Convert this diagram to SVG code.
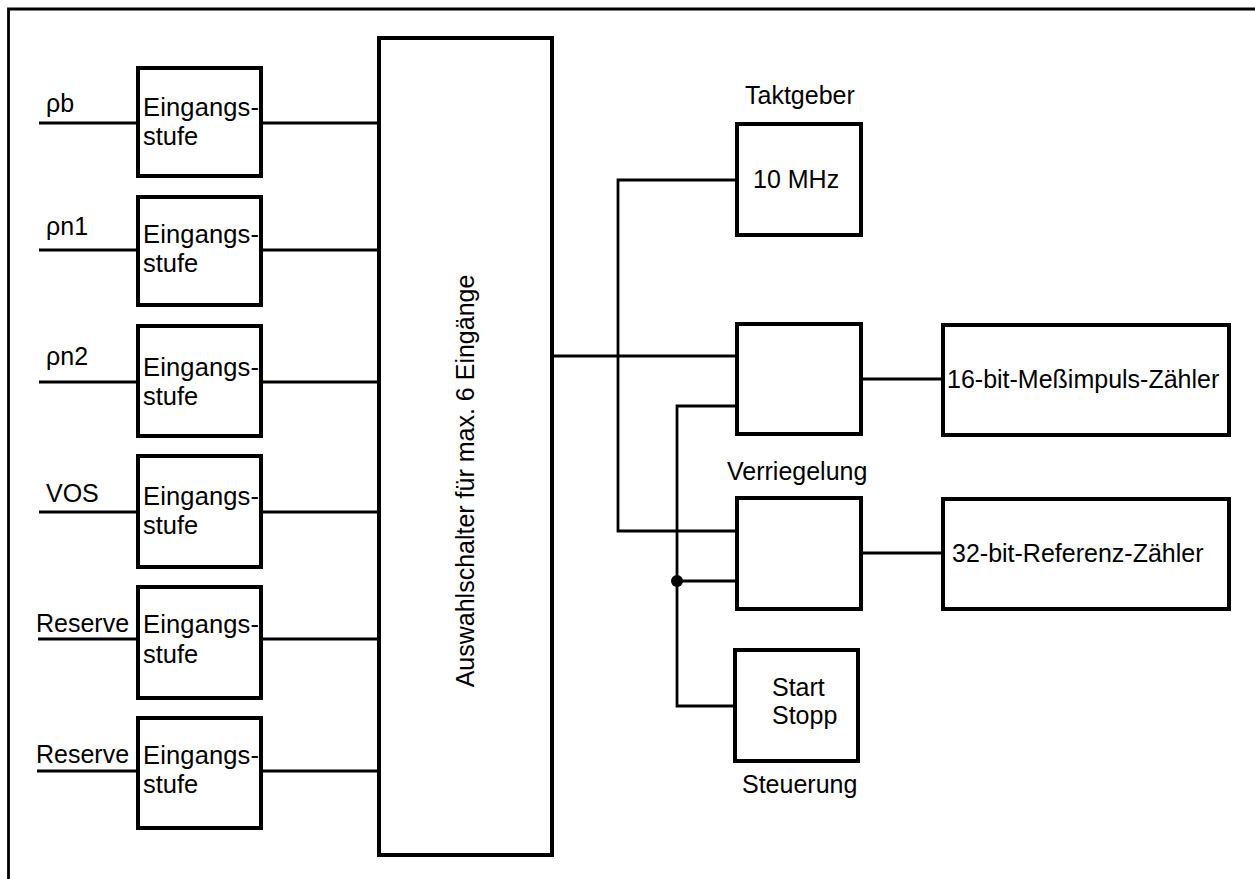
<svg xmlns="http://www.w3.org/2000/svg" width="1255" height="879" viewBox="0 0 1255 879">
<style>
.box{fill:#fff;stroke:#000;stroke-width:4}
.ln{fill:none;stroke:#000;stroke-width:2.8}
text{font-family:"Liberation Sans",Arial,sans-serif;font-size:25px;fill:#000}
.e{font-size:25.5px}
</style>
<rect width="1255" height="879" fill="#fff"/>
<path class="ln" d="M8.5 879 V9 H1255" stroke-width="2.5"/>
<g id="connectors">
<path class="ln" d="M39 123 H136 M39 250 H136 M39 382 H136 M39 512 H136 M38 639 H136 M37 771 H136"/>
<path class="ln" d="M263 123 H377 M263 250 H377 M263 382 H377 M263 512 H377 M263 639 H377 M263 771 H377"/>
<path class="ln" d="M554 356 H735"/>
<path class="ln" d="M735 180 H618 V531 H735"/>
<path class="ln" d="M735 406 H677 V706 H737"/>
<path class="ln" d="M677 581 H735"/>
<circle cx="677" cy="581" r="6" fill="#000"/>
<path class="ln" d="M863 379 H941 M863 553 H941"/>
</g>
<g id="labels">
<text x="46" y="112">ρb</text>
<text x="46" y="235">ρn1</text>
<text x="46" y="365">ρn2</text>
<text x="46" y="502">VOS</text>
<text x="36" y="632">Reserve</text>
<text x="36" y="763">Reserve</text>
</g>
<g id="in1"><rect class="box" x="138" y="68" width="123" height="108"/><text class="e" x="143" y="116" textLength="116">Eingangs-</text><text class="e" x="143" y="145">stufe</text></g>
<g id="in2"><rect class="box" x="138" y="197" width="123" height="108"/><text class="e" x="143" y="243" textLength="116">Eingangs-</text><text class="e" x="143" y="272">stufe</text></g>
<g id="in3"><rect class="box" x="138" y="326" width="123" height="110"/><text class="e" x="143" y="376" textLength="116">Eingangs-</text><text class="e" x="143" y="405">stufe</text></g>
<g id="in4"><rect class="box" x="138" y="456" width="123" height="111"/><text class="e" x="143" y="505" textLength="116">Eingangs-</text><text class="e" x="143" y="534">stufe</text></g>
<g id="in5"><rect class="box" x="138" y="587" width="123" height="111"/><text class="e" x="143" y="633" textLength="116">Eingangs-</text><text class="e" x="143" y="663">stufe</text></g>
<g id="in6"><rect class="box" x="138" y="718" width="123" height="110"/><text class="e" x="143" y="764" textLength="116">Eingangs-</text><text class="e" x="143" y="793">stufe</text></g>
<g id="auswahl"><rect class="box" x="379" y="38" width="173" height="817"/><text transform="translate(474 481) rotate(-90)" text-anchor="middle">Auswahlschalter für max. 6 Eingänge</text></g>
<g id="takt"><text x="745" y="104">Taktgeber</text><rect class="box" x="737" y="124" width="124" height="111"/><text x="753" y="188">10 MHz</text></g>
<g id="verr1"><rect class="box" x="737" y="324" width="124" height="110"/></g>
<g id="verrlabel"><text x="727" y="480">Verriegelung</text></g>
<g id="verr2"><rect class="box" x="737" y="498" width="124" height="111"/></g>
<g id="startstopp"><rect class="box" x="735" y="650" width="123" height="111"/><text x="772" y="696">Start</text><text x="772" y="724">Stopp</text><text x="742" y="793">Steuerung</text></g>
<g id="cnt16"><rect class="box" x="943" y="325" width="286" height="110"/><text x="947" y="388">16-bit-Meßimpuls-Zähler</text></g>
<g id="cnt32"><rect class="box" x="943" y="499" width="286" height="110"/><text x="952" y="562">32-bit-Referenz-Zähler</text></g>
</svg>
